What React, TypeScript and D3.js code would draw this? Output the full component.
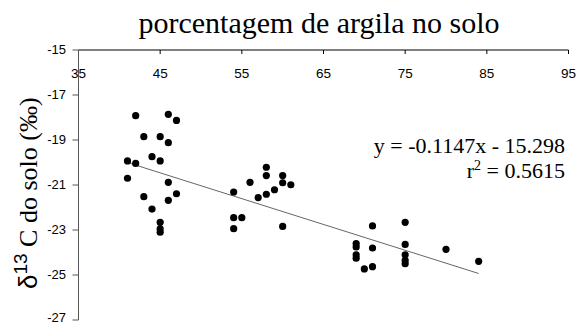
import React, { useEffect, useRef } from 'react';
import * as d3 from 'd3';

// porcentagem de argila (x) e delta13C (y)
const argila = [
  42, 46, 47, 43, 45, 46, 44, 45, 41, 42, 41, 46, 47, 43, 46, 44, 45, 45, 45,
  54, 54, 55, 54, 56, 58, 58, 57, 58, 59, 60, 60, 61, 60,
  71, 75, 69, 69, 69, 69, 71, 71, 70, 75, 75, 75, 75, 80, 84,
];
const delta13C = [
  -17.92, -17.86, -18.13, -18.85, -18.85, -19.12, -19.74, -19.93, -19.93, -20.04, -20.7, -20.88, -21.39, -21.52, -21.68, -22.07, -22.66, -22.95, -23.1,
  -21.31, -22.45, -22.45, -22.94, -20.88, -20.21, -20.58, -21.56, -21.41, -21.21, -20.58, -20.9, -20.99, -22.84,
  -22.82, -22.66, -23.6, -23.75, -24.1, -24.25, -23.8, -24.63, -24.73, -23.64, -24.1, -24.35, -24.5, -23.86, -24.39,
];
const xTicks = [35, 45, 55, 65, 75, 85, 95];
const yTicks = [-15, -17, -19, -21, -23, -25, -27];
const slope = -0.1147;
const intercept = -15.298;
const r2 = 0.5615;

const W = 579;
const H = 325;
const sans = 'Liberation Sans, Arial, sans-serif';
const serif = 'Liberation Serif, Times New Roman, serif';

export default function App() {
  const ref = useRef<SVGSVGElement>(null);

  useEffect(() => {
    document.body.style.margin = '0';
    const svg = d3.select(ref.current);
    svg.selectAll('*').remove();

    const x = d3.scaleLinear().domain([35, 95]).range([78.5, 568.5]);
    const y = d3.scaleLinear().domain([-15, -27]).range([50, 320]);

    // eixo x em cima
    const gx = svg.append('g');
    gx.append('line')
      .attr('x1', x(35)).attr('x2', x(95))
      .attr('y1', y(-15)).attr('y2', y(-15))
      .attr('stroke', '#000').attr('stroke-width', 1.2);
    gx.selectAll('line.t').data(xTicks).enter().append('line')
      .attr('class', 't')
      .attr('x1', d => x(d)).attr('x2', d => x(d))
      .attr('y1', y(-15)).attr('y2', y(-15) + 4)
      .attr('stroke', '#000');
    gx.selectAll('text').data(xTicks).enter().append('text')
      .attr('x', d => x(d)).attr('y', 78)
      .attr('text-anchor', 'middle')
      .style('font-family', sans)
      .style('font-size', '13.5px')
      .text(d => d);

    // eixo y
    const gy = svg.append('g');
    gy.append('line')
      .attr('x1', x(35)).attr('x2', x(35))
      .attr('y1', y(-15)).attr('y2', y(-27))
      .attr('stroke', '#555').attr('stroke-width', 1);
    gy.selectAll('line.t').data(yTicks).enter().append('line')
      .attr('class', 't')
      .attr('x1', x(35) - 6).attr('x2', x(35))
      .attr('y1', d => y(d)).attr('y2', d => y(d))
      .attr('stroke', '#555');
    gy.selectAll('text').data(yTicks).enter().append('text')
      .attr('x', 66).attr('y', d => Math.min(y(d) + 4, 322))
      .attr('text-anchor', 'end')
      .style('font-family', sans)
      .style('font-size', '13px')
      .text(d => d);

    // linha de tendencia
    const [x0, x1] = d3.extent(argila) as [number, number];
    svg.append('line')
      .attr('x1', x(x0)).attr('y1', y(slope * x0 + intercept))
      .attr('x2', x(x1)).attr('y2', y(slope * x1 + intercept))
      .attr('stroke', '#666').attr('stroke-width', 1);

    // pontos
    svg.selectAll('circle').data(argila).enter().append('circle')
      .attr('cx', d => x(d))
      .attr('cy', (d, i) => y(delta13C[i]))
      .attr('r', 3.6)
      .attr('fill', '#000');

    // titulo
    svg.append('text')
      .attr('x', 319).attr('y', 33)
      .attr('text-anchor', 'middle')
      .style('font-family', serif)
      .style('font-size', '30px')
      .text('porcentagem de argila no solo');

    // rotulo eixo y
    const yl = svg.append('text')
      .attr('transform', 'translate(37,289) rotate(-90)')
      .attr('text-anchor', 'start')
      .style('font-family', serif)
      .style('font-size', '26px');
    yl.append('tspan').style('font-family', sans).text('δ');
    yl.append('tspan').attr('dy', -10).style('font-size', '19px')
      .style('font-family', sans).text('13');
    yl.append('tspan').attr('dy', 10).text(' C do solo (‰)');

    // equacao
    const eq = svg.append('g')
      .style('font-family', serif)
      .style('font-size', '22px')
      .attr('text-anchor', 'end');
    eq.append('text').attr('x', 565).attr('y', 153)
      .text(`y = ${slope}x - ${Math.abs(intercept)}`);
    const r = eq.append('text').attr('x', 565).attr('y', 178);
    r.append('tspan').text('r');
    r.append('tspan').attr('dy', -8).style('font-size', '14px').text('2');
    r.append('tspan').attr('dy', 8).text(` = ${r2}`);
  }, []);

  return (
    <div>
      <svg ref={ref} width={W} height={H} style={{ display: 'block', background: '#fff' }} />
    </div>
  );
}
